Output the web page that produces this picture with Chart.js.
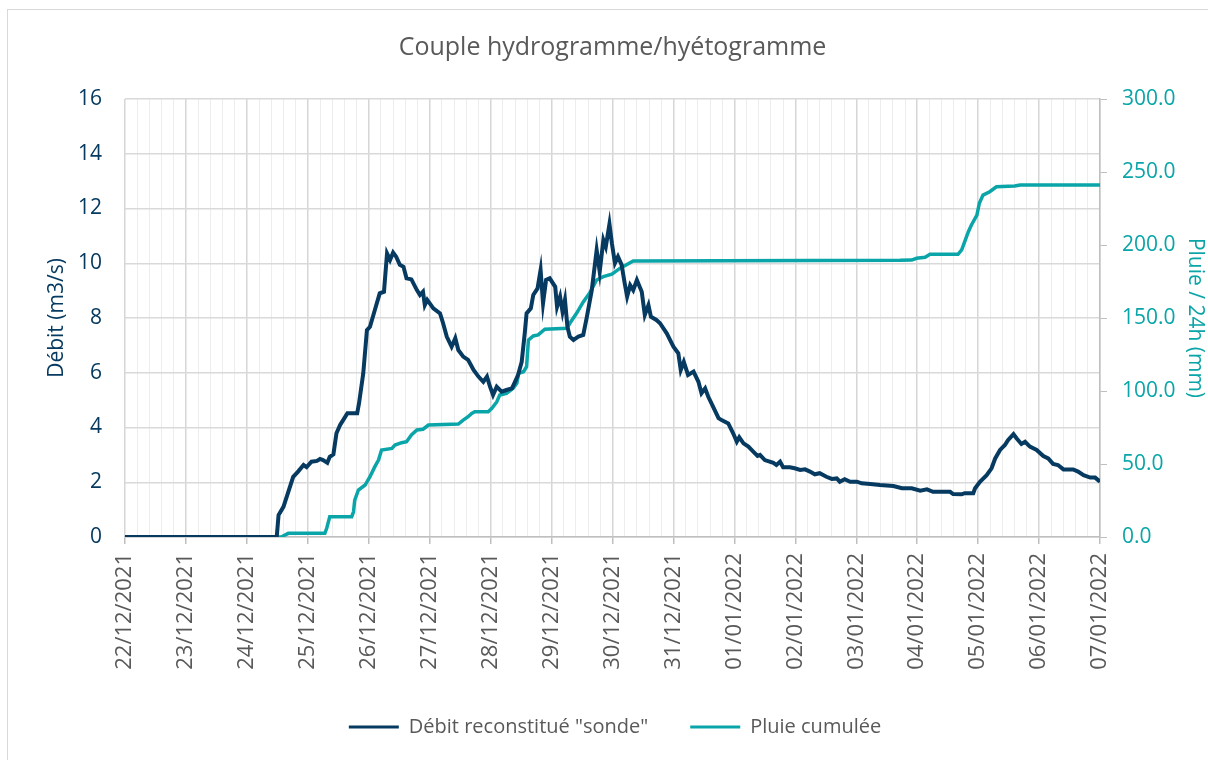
<!DOCTYPE html>
<html>
<head>
<meta charset="utf-8">
<script src="https://cdn.jsdelivr.net/npm/chart.js@4.4.0/dist/chart.umd.min.js"></script>
<style>
    body { margin: 0; background: #fff; }
    .cadre { position: absolute; left: 7px; top: 9px; width: 1300px; height: 900px; border: 1px solid #d9d9d9; }
    .zone { position: absolute; left: 0; top: 0; width: 1208px; height: 760px; }
</style>
</head>
<body>
<div class="cadre"></div>
<div class="zone"><canvas id="grafico" width="1208" height="760"></canvas></div>
<script>
// dates affichees sur l'axe (un jour par graduation principale)
var dateLabels = ['22/12/2021', '23/12/2021', '24/12/2021', '25/12/2021', '26/12/2021', '27/12/2021',
    '28/12/2021', '29/12/2021', '30/12/2021', '31/12/2021', '01/01/2022', '02/01/2022', '03/01/2022',
    '04/01/2022', '05/01/2022', '06/01/2022', '07/01/2022']

// debit reconstitue "sonde" : temps en jours depuis le 22/12/2021, debit en m3/s
var debitJours = [0, 2.49, 2.52, 2.60, 2.76, 2.84, 2.93, 2.98, 3.06, 3.15, 3.20, 3.25, 3.32, 3.36, 3.42, 3.47,
    3.53, 3.58, 3.65, 3.81, 3.84, 3.91, 3.97, 4.02, 4.10, 4.18, 4.25, 4.30, 4.35, 4.40, 4.45, 4.51, 4.57,
    4.62, 4.70, 4.79, 4.84, 4.89, 4.92, 4.96, 5.06, 5.17, 5.22, 5.28, 5.36, 5.42, 5.47, 5.55, 5.63, 5.72,
    5.80, 5.88, 5.94, 5.99, 6.04, 6.10, 6.18, 6.26, 6.35, 6.40, 6.45, 6.51, 6.56, 6.59, 6.66, 6.70, 6.77,
    6.82, 6.86, 6.91, 6.97, 7.06, 7.09, 7.14, 7.18, 7.22, 7.26, 7.30, 7.36, 7.44, 7.52, 7.58, 7.66, 7.74,
    7.79, 7.85, 7.89, 7.95, 7.99, 8.04, 8.09, 8.15, 8.20, 8.24, 8.29, 8.34, 8.40, 8.48, 8.53, 8.59, 8.63,
    8.72, 8.78, 8.89, 9.00, 9.08, 9.12, 9.17, 9.24, 9.33, 9.41, 9.46, 9.52, 9.57, 9.65, 9.74, 9.79, 9.90,
    9.98, 10.04, 10.08, 10.15, 10.23, 10.31, 10.38, 10.42, 10.50, 10.64, 10.69, 10.75, 10.80, 10.91, 10.99,
    11.08, 11.16, 11.24, 11.32, 11.40, 11.51, 11.60, 11.68, 11.73, 11.81, 11.90, 12.01, 12.09, 12.23, 12.39,
    12.61, 12.75, 12.91, 13.05, 13.16, 13.26, 13.54, 13.59, 13.73, 13.78, 13.92, 13.95, 14.03, 14.14, 14.22,
    14.28, 14.36, 14.44, 14.49, 14.58, 14.63, 14.71, 14.77, 14.85, 14.96, 15.07, 15.15, 15.23, 15.31, 15.40,
    15.56, 15.64, 15.73, 15.84, 15.92, 16.00]
var debitValeurs = [0, 0, 0.8, 1.1, 2.2, 2.39, 2.63, 2.55, 2.75, 2.78, 2.85, 2.81, 2.71, 2.93, 3.02, 3.79,
    4.09, 4.27, 4.52, 4.52, 4.88, 5.98, 7.56, 7.68, 8.29, 8.9, 8.96, 10.36, 10.12, 10.39, 10.24, 9.94, 9.87,
    9.45, 9.41, 9.02, 8.84, 8.96, 8.47, 8.66, 8.35, 8.17, 7.81, 7.32, 6.95, 7.26, 6.83, 6.59, 6.47, 6.1,
    5.86, 5.67, 5.86, 5.49, 5.19, 5.49, 5.31, 5.37, 5.43, 5.67, 5.92, 6.4, 7.44, 8.17, 8.35, 8.84, 9.08,
    9.75, 8.54, 9.39, 9.45, 9.14, 8.41, 8.78, 8.23, 8.66, 7.68, 7.32, 7.2, 7.32, 7.38, 8.05, 9.02, 10.48,
    9.69, 10.85, 10.6, 11.43, 10.73, 10.0, 10.24, 9.94, 9.27, 8.78, 9.2, 9.02, 9.39, 8.96, 8.11, 8.47, 8.05,
    7.93, 7.81, 7.44, 6.95, 6.71, 6.1, 6.4, 5.92, 6.04, 5.67, 5.25, 5.43, 5.13, 4.76, 4.34, 4.27, 4.15,
    3.79, 3.48, 3.64, 3.42, 3.3, 3.12, 2.96, 3.0, 2.81, 2.71, 2.63, 2.75, 2.55, 2.55, 2.51,
    2.45, 2.47, 2.39, 2.29, 2.33, 2.2, 2.12, 2.14, 2.02, 2.11, 2.02, 2.02, 1.96, 1.94, 1.9,
    1.86, 1.78, 1.78, 1.69, 1.74, 1.65, 1.65, 1.57, 1.56, 1.6, 1.6, 1.78, 2.02, 2.26, 2.51,
    2.87, 3.18, 3.36, 3.54, 3.76, 3.61, 3.4, 3.48, 3.3, 3.18, 2.96, 2.87, 2.67, 2.63, 2.47,
    2.47, 2.39, 2.26, 2.17, 2.17, 2.02]

// pluie cumulee : temps en jours depuis le 22/12/2021, cumul en mm
var pluieJours = [0, 2.49, 2.57, 2.68, 3.28, 3.31, 3.36, 3.72, 3.75, 3.77, 3.83, 3.94, 4.02, 4.10, 4.16, 4.21,
    4.38, 4.43, 4.54, 4.62, 4.70, 4.79, 4.89, 4.98, 5.47, 5.55, 5.63, 5.69, 5.74, 5.96, 6.02, 6.10, 6.15,
    6.26, 6.37, 6.43, 6.46, 6.54, 6.59, 6.62, 6.70, 6.78, 6.89, 7.25, 7.30, 7.41, 7.52, 7.63, 7.74, 7.85,
    7.99, 8.12, 8.34, 12.72, 12.91, 12.99, 13.13, 13.21, 13.67, 13.73, 13.78, 13.84, 13.89, 13.98, 14.02,
    14.08, 14.19, 14.30, 14.60, 14.69, 16.00]
var pluieValeurs = [0, 0, 0.2, 2.5, 2.5, 6, 13.9, 13.9, 17.3, 25.3, 32.2, 35.6, 41.3, 48.2, 52.7, 59.6,
    60.7, 63, 64.6, 65.3, 69.9, 73.3, 73.8, 76.7, 77.4, 80.1, 82.4, 84.7, 85.8, 85.8, 88.2, 92.5, 97.3,
    98.4, 101.8, 105.3, 112.1, 113.2, 116.6, 134.9, 137.7, 138.4, 142.3, 142.9, 146.4, 153.2, 161, 167.5, 176, 178.3,
    180.1, 184, 189, 189.5, 189.7, 190.9, 191.6, 193.6, 193.6, 196.6, 202.3, 209.1, 213.7, 220.5, 228.6,
    234.2, 236.5, 239.9, 240.4, 241.1, 241.1]

var bleu = '#063a60'
var turquoise = '#0aa5a8'
var gris = '#595959'

function estJour(v) {
    return Math.abs(v - Math.round(v)) < 1e-6
}

Chart.defaults.font.family = "'Open Sans', sans-serif"
Chart.defaults.font.size = 21

var ctx = document.querySelector('#grafico')
new Chart(ctx, {
    type: 'line',
    data: {
        datasets: [
            {
                label: 'Débit reconstitué "sonde"',
                data: debitJours.map((j, i) => ({ x: j, y: debitValeurs[i] })),
                borderColor: bleu,
                backgroundColor: bleu,
                borderWidth: 4,
                pointRadius: 0,
                yAxisID: 'y'
            },
            {
                label: 'Pluie cumulée',
                data: pluieJours.map((j, i) => ({ x: j, y: pluieValeurs[i] })),
                borderColor: turquoise,
                backgroundColor: turquoise,
                borderWidth: 3.5,
                pointRadius: 0,
                yAxisID: 'y1'
            }
        ]
    },
    options: {
        responsive: false,
        animation: false,
        // le decalage a gauche recentre la legende comme sur l'original
        layout: { padding: { left: 22, right: 0, top: 0, bottom: 13 } },
        plugins: {
            title: {
                display: true,
                fullSize: false,
                text: 'Couple hydrogramme/hyétogramme',
                color: gris,
                font: { size: 25, weight: 'normal' },
                padding: { top: 33, bottom: 36 }
            },
            legend: {
                position: 'bottom',
                labels: {
                    color: gris,
                    boxWidth: 50,
                    boxHeight: 3,
                    padding: 42,
                    font: { size: 20 },
                    generateLabels: chart => Chart.defaults.plugins.legend.labels.generateLabels(chart)
                        .map(l => ({ ...l, lineWidth: 0 }))
                }
            },
            tooltip: { enabled: false }
        },
        scales: {
            x: {
                type: 'linear',
                min: 0,
                max: 16,
                afterFit: s => { s.height = 138 },
                ticks: {
                    stepSize: 0.2,
                    autoSkip: false,
                    minRotation: 90,
                    maxRotation: 90,
                    padding: 9,
                    color: gris,
                    font: { size: 22 },
                    callback: v => estJour(v) ? dateLabels[Math.round(v)] : ''
                },
                grid: {
                    color: c => estJour(c.tick.value) ? '#d6d6d6' : '#ededed',
                    lineWidth: c => estJour(c.tick.value) ? 1.5 : 1,
                    tickColor: c => estJour(c.tick.value) ? '#bfbfbf' : 'rgba(0,0,0,0)',
                    tickLength: 7
                },
                border: { display: true, color: '#bfbfbf', width: 1.5 }
            },
            y: {
                position: 'left',
                min: 0,
                max: 16,
                afterFit: s => { s.width = 103 },
                ticks: { stepSize: 2, color: bleu, padding: 23 },
                grid: { color: '#d9d9d9', lineWidth: 1.5, drawTicks: false },
                border: { display: false },
                title: {
                    display: true,
                    text: 'Débit (m3/s)',
                    color: bleu,
                    font: { size: 21 },
                    padding: { top: 22 }
                }
            },
            y1: {
                position: 'right',
                min: 0,
                max: 300,
                afterFit: s => { s.width = 108 },
                ticks: { stepSize: 50, color: turquoise, padding: 15, callback: v => v.toFixed(1) },
                grid: { drawOnChartArea: false, tickColor: '#bfbfbf', tickLength: 7 },
                border: { display: true, color: '#bfbfbf', width: 1.5 },
                title: {
                    display: true,
                    text: 'Pluie / 24h (mm)',
                    color: turquoise,
                    font: { size: 21 },
                    padding: { top: 0 }
                }
            }
        }
    }
})
</script>
</body>
</html>
